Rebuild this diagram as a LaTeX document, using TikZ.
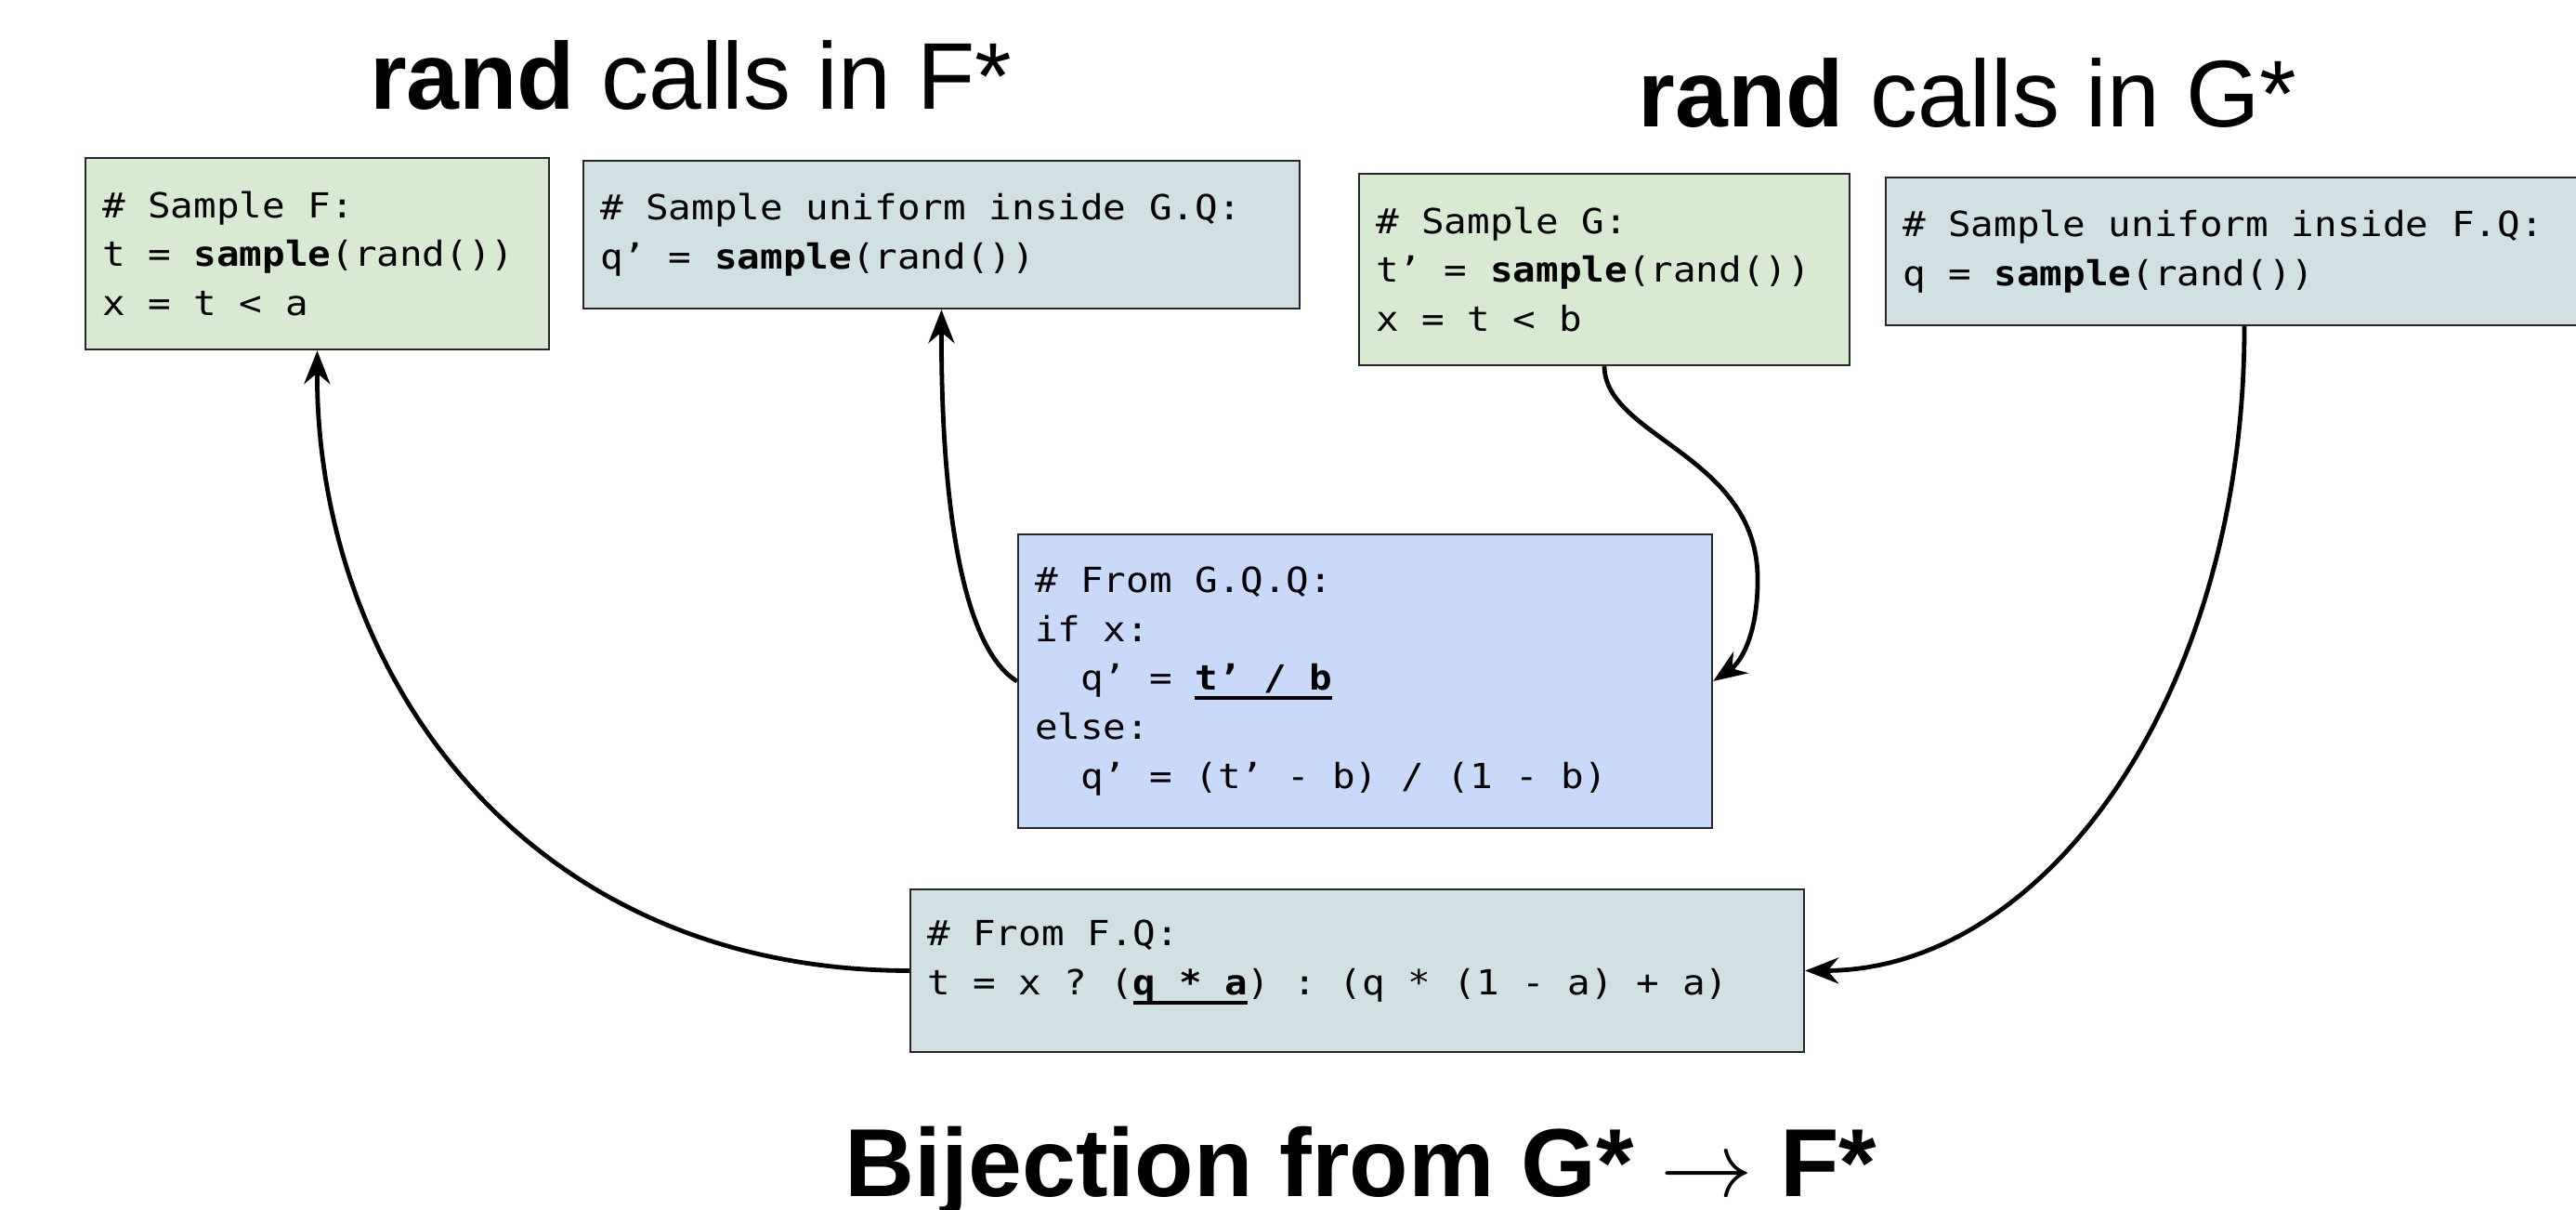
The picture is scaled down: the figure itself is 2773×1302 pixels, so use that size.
\documentclass[tikz,border=0pt]{standalone}
\usepackage{fontspec}
\usetikzlibrary{arrows.meta}
\newfontfamily\codefont[FakeStretch=1.1]{DejaVu Sans Mono}
\newfontfamily\titlefont{Liberation Sans}
\definecolor{boxgreen}{HTML}{D9EAD3}
\definecolor{boxcyan}{HTML}{D0E0E3}
\definecolor{boxblue}{HTML}{C9DAF8}
\newcommand\myul[1]{\setbox0\hbox{#1}\rlap{\rule[-2.6pt]{\wd0}{1pt}}\box0}
\newcommand\spc{\hspace*{6.16pt}}
\newcommand\codesetup{\codefont\fontsize{9.3pt}{13.2pt}\selectfont}
\begin{document}
\begin{tikzpicture}[x=0.25pt,y=-0.25pt,
 codebox/.style={draw=black!85, line width=0.6pt, rectangle, align=left, inner xsep=4.5pt, inner ysep=0pt,
   font=\codesetup, anchor=center},
 conn/.style={line width=1.2pt, -{Stealth[length=9pt,width=7pt]}},
 title/.style={font=\titlefont\fontsize{25.5pt}{30pt}\selectfont, anchor=base, inner sep=0pt}]
\useasboundingbox (0,0) rectangle (2773,1302);

\node[title] (t1) at (744,118) {\textbf{rand} calls in F*};
\node[title] (t2) at (2118,137) {\textbf{rand} calls in G*};
\node[title, font=\titlefont\bfseries\fontsize{26pt}{30pt}\selectfont] (t3) at (1465,1287) {Bijection from G* $\rightarrow$ F*};

\node[codebox, fill=boxgreen, minimum width=124.75pt, minimum height=51.5pt, text width=115.75pt] (A) at (341.5,273)
 {\#\spc Sample\spc F:\\ t\spc=\spc\textbf{sample}(rand())\\ x\spc=\spc t\spc<\spc a};
\node[codebox, fill=boxcyan, minimum width=192.75pt, minimum height=39.75pt, text width=183.75pt] (B) at (1013.5,252.5)
 {\#\spc Sample\spc uniform\spc inside\spc G.Q:\\ q’\spc=\spc\textbf{sample}(rand())};
\node[codebox, fill=boxgreen, minimum width=132pt, minimum height=51.5pt, text width=123pt] (C) at (1727,290)
 {\#\spc Sample\spc G:\\ t’\spc=\spc\textbf{sample}(rand())\\ x\spc=\spc t\spc<\spc b};
\node[codebox, fill=boxcyan, minimum width=193pt, minimum height=39.75pt, text width=184pt] (D) at (2416,270.5)
 {\#\spc Sample\spc uniform\spc inside\spc F.Q:\\ q\spc=\spc\textbf{sample}(rand())};
\node[codebox, fill=boxblue, minimum width=186.75pt, minimum height=79pt, text width=177.75pt] (E) at (1469.5,733)
 {\#\spc From\spc G.Q.Q:\\ if\spc x:\\ \spc\spc q’\spc=\spc\myul{\textbf{t’\spc/\spc b}}\\ else:\\ \spc\spc q’\spc=\spc(t’\spc-\spc b)\spc/\spc(1\spc-\spc b)};
\node[codebox, fill=boxcyan, minimum width=240.5pt, minimum height=43.75pt, text width=231.5pt] (F) at (1461,1044.5)
 {\#\spc From\spc F.Q:\\ t\spc=\spc x\spc?\spc(\myul{\textbf{q\spc*\spc a}})\spc:\spc(q\spc*\spc(1\spc-\spc a)\spc+\spc a)\rule[-7pt]{0pt}{0pt}};

\draw[conn] (F.west) .. controls (560,1044) and (340,720) .. (A.south);
\draw[conn] (E.west) .. controls (1040,700) and (1013,560) .. (B.south);
\draw[conn] (C.south) .. controls (1728,470) and (1890,490) .. (1892,620) .. controls (1893,680) and (1875,712) .. (E.east);
\draw[conn] (D.south) .. controls (2416,750) and (2200,1044) .. (F.east);
\end{tikzpicture}
\end{document}
